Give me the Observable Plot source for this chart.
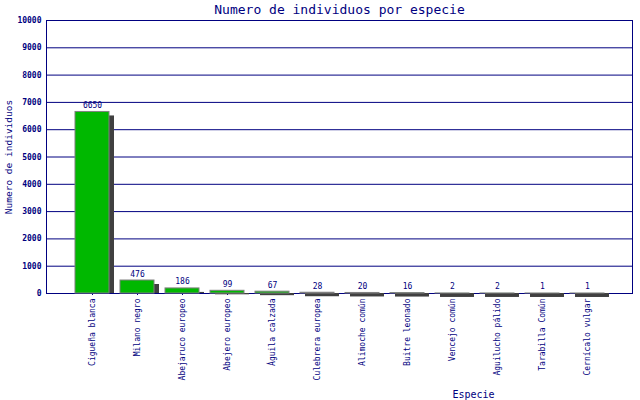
<!DOCTYPE html>
<html>
<head>
<meta charset="utf-8">
<script src="https://cdn.jsdelivr.net/npm/d3@7"></script>
<script src="https://cdn.jsdelivr.net/npm/@observablehq/plot@0.6"></script>
<style>
  html, body { margin: 0; padding: 0; background: #fff; }
</style>
</head>
<body>
<div id="chart"></div>
<script>
const species = ["Cigueña blanca", "Milano negro", "Abejaruco europeo", "Abejero europeo", "Águila calzada", "Culebrera europea", "Alimoche común", "Buitre leonado", "Vencejo común", "Aguilucho pálido", "Tarabilla Común", "Cernícalo vulgar"];
const counts = [6650, 476, 186, 99, 67, 28, 20, 16, 2, 2, 1, 1];
const yTicks = [0, 1000, 2000, 3000, 4000, 5000, 6000, 7000, 8000, 9000, 10000];

const title = "Numero de individuos por especie";
const yLabel = "Numero de individuos";
const xLabel = "Especie";

const data = species.map((s, i) => ({species: s, value: counts[i]}));

const W = 640, H = 400;
const mTop = 20, mBottom = 107, mLeft = 46, mRight = 8;
const yMax = 10000;
const plotH = H - mTop - mBottom;
const shadowPx = 4;
const shadowUnits = shadowPx * yMax / plotH;

const navy = "#000080";
const font = "DejaVu Sans Mono, monospace";

const chart = Plot.plot({
  width: W,
  height: H,
  marginTop: mTop,
  marginBottom: mBottom,
  marginLeft: mLeft,
  marginRight: mRight,
  style: {fontFamily: font, color: navy, background: "#fff"},
  x: {domain: species, paddingInner: 0.25, paddingOuter: 0.625, label: null},
  y: {domain: [0, yMax], label: null},
  marks: [
    Plot.gridY(yTicks, {stroke: navy, strokeOpacity: 1, strokeWidth: 1}),
    Plot.frame({stroke: navy, strokeWidth: 1}),
    Plot.axisY({ticks: yTicks, tickSize: 0, tickPadding: 5, fontSize: 8, fontWeight: "bold", tickFormat: d => String(d), label: null}),
    Plot.axisX({tickRotate: -90, tickSize: 2, tickPadding: 3, fontSize: 8, stroke: navy, label: null}),
    Plot.rectY(data, {x: "species", y1: 0, y2: d => d.value - shadowUnits, dx: 5, fill: "#404040"}),
    Plot.rectY(data, {x: "species", y: "value", fill: "#00b800", stroke: "#808080", strokeWidth: 1}),
    Plot.text(data, {x: "species", y: "value", text: d => String(d.value), dy: -4, lineAnchor: "bottom", fontSize: 8, fill: navy}),
    Plot.text([title], {frameAnchor: "top", textAnchor: "middle", lineAnchor: "middle", dy: -11, fontSize: 13, fill: navy}),
    Plot.text([yLabel], {frameAnchor: "left", textAnchor: "middle", lineAnchor: "middle", dx: -38, rotate: -90, fontSize: 9.5, fill: navy}),
    Plot.text([xLabel], {frameAnchor: "bottom", textAnchor: "middle", lineAnchor: "middle", dx: 134, dy: 101, fontSize: 10, fill: navy})
  ]
});
document.getElementById("chart").appendChild(chart);
</script>
</body>
</html>
